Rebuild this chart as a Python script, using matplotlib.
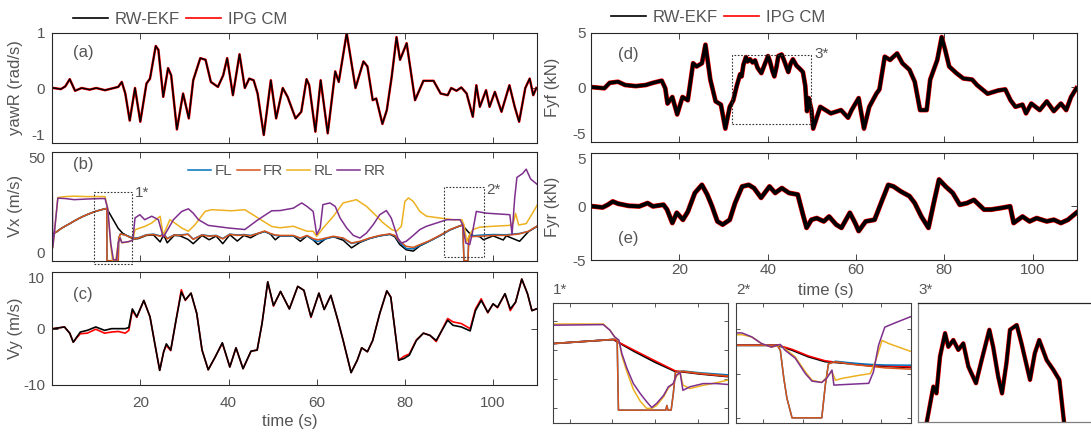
import matplotlib.pyplot as plt
from matplotlib.lines import Line2D

W, H = 1091, 433
plt.rcParams['font.family'] = ['Liberation Sans', 'DejaVu Sans']
plt.rcParams['axes.unicode_minus'] = False
plt.rcParams['lines.solid_joinstyle'] = 'round'

TXT = '#555555'
C_FL, C_FR, C_RL, C_RR = '#0072BD', '#D95319', '#EDB120', '#7E2F8E'

# (a) yaw rate, rad/s
yaw_t = [0.3, 2.0, 3.0, 4.0, 5.2, 6.7, 8.5, 10.0, 12.0, 14.0,
         15.0, 15.8, 16.6, 17.6, 18.8, 20.0, 21.4, 22.2, 23.5, 24.1,
         25.2, 26.3, 27.0, 28.3, 29.7, 31.0, 32.0, 33.6, 34.8, 36.0,
         37.6, 38.8, 39.7, 41.0, 42.5, 43.7, 44.7, 45.7, 46.6, 48.0,
         49.6, 50.8, 52.3, 53.4, 55.2, 56.5, 57.7, 58.3, 59.7, 60.9,
         62.5, 64.2, 65.0, 66.8, 68.8, 70.6, 71.5, 72.7, 73.5, 74.9,
         75.9, 77.0, 78.1, 78.9, 80.4, 82.3, 84.2, 86.5, 88.1, 89.7,
         90.5, 91.7, 92.8, 94.0, 95.4, 96.2, 97.0, 98.4, 99.2, 100.4,
         101.9, 103.7, 104.9, 105.9, 107.3, 108.3, 109.1, 109.8]
yaw_r = [0.0, -0.02, 0.03, 0.16, -0.05, 0.0, -0.03, 0.0, -0.04, 0.0,
         0.02, 0.11, -0.1, -0.59, 0.0, -0.61, 0.08, 0.17, 0.76, 0.69,
         -0.16, 0.36, 0.23, -0.75, -0.1, -0.55, 0.14, 0.54, 0.51, 0.11,
         0.02, 0.23, 0.54, -0.13, 0.61, 0.0, 0.17, 0.14, -0.1, -0.85,
         0.14, -0.55, 0.0, -0.16, -0.55, -0.43, 0.16, 0.05, -0.79, 0.14,
         -0.82, 0.3, 0.11, 0.99, 0.0, 0.48, 0.39, -0.22, -0.19, -0.65,
         -0.4, 0.2, 0.92, 0.51, 0.81, -0.22, 0.13, 0.13, -0.1, -0.13,
         0.0, -0.05, 0.01, -0.1, -0.52, 0.05, -0.34, -0.04, -0.34, -0.07,
         -0.43, 0.05, -0.34, -0.61, 0.0, 0.17, -0.13, 0.0]

# (b) wheel speeds, m/s
vxf_t = [0.3, 1, 2, 3, 4, 5, 6, 7, 8, 9,
         10, 11, 12, 12.4, 12.45, 15.0, 15.1, 15.5, 16.5, 17.3,
         18.5, 19.5, 21.4, 23, 24.5, 25.3, 26.1, 27.7, 29, 30.8,
         32, 34, 35.6, 37.2, 38.7, 40.3, 42, 43.5, 45, 46.6,
         48.2, 49.5, 50.6, 51.7, 54.7, 56.3, 57.8, 59.2, 60.3, 62.1,
         63.8, 66, 67.9, 69.8, 72, 74.3, 76.6, 77.7, 78.8, 80.3,
         81.9, 83.4, 85.6, 87.9, 90.2, 92.5, 93.1, 93.4, 94.3, 94.5,
         97, 100, 103, 106, 108, 110]
vx_fr = [12.5, 13.2, 14.7, 15.9, 17.0, 18.2, 19.3, 20.3, 21.2, 22.0,
         22.7, 23.3, 23.8, 24.0, 0.0, 0.0, 10.5, 12.3, 11.8, 11.1,
         10.2, 10.3, 11.8, 12.0, 11.2, 12.1, 10.0, 11.8, 11.6, 12.1,
         9.8, 11.8, 11.2, 11.5, 10.0, 12.1, 11.6, 11.8, 11.4, 12.5,
         13.6, 12.5, 11.8, 11.6, 11.6, 10.4, 11.6, 10.1, 9.6, 10.4,
         11.2, 10.4, 8.1, 8.9, 10.4, 11.6, 12.3, 11.6, 8.9, 6.6,
         6.1, 7.4, 9.2, 11.6, 14.3, 16.0, 16.5, 0.0, 0.0, 11.0,
         11.2, 11.6, 11.6, 12.3, 13.5, 15.9]
vx_fl = [12.5, 13.2, 14.7, 15.9, 17.0, 18.2, 19.3, 20.3, 21.2, 22.0,
         22.7, 23.3, 23.8, 24.0, 0.0, 0.0, 10.5, 12.3, 11.8, 11.3,
         10.4, 10.5, 11.9, 12.2, 11.4, 12.3, 10.2, 11.9, 11.8, 12.2,
         9.9, 11.9, 11.4, 11.6, 10.2, 12.2, 11.8, 12.0, 11.6, 12.5,
         13.4, 12.3, 11.6, 11.4, 11.4, 10.2, 11.4, 9.6, 8.8, 10.0,
         11.0, 10.2, 7.9, 8.7, 10.2, 11.4, 12.1, 11.4, 8.5, 5.6,
         5.4, 7.0, 9.0, 11.4, 14.1, 16.0, 16.5, 0.0, 0.0, 11.3,
         11.7, 12.0, 11.9, 12.5, 13.4, 15.8]

vx_ref_t = [0.3, 1, 2, 3, 4, 5, 6, 7, 8, 9,
            10, 11, 12, 12.4, 13, 14, 15, 16, 17.3, 18.5,
            19.5, 21.4, 23, 24.5, 25.3, 26.1, 27.7, 29, 30.8, 32,
            34, 35.6, 37.2, 38.7, 40.3, 42, 43.5, 45, 46.6, 48.2,
            49.5, 50.6, 51.7, 54.7, 56.3, 57.8, 59.2, 60.3, 62.1, 63.8,
            66, 67.9, 69.8, 72, 74.3, 76.6, 77.7, 78.8, 80.3, 81.9,
            83.4, 85.6, 87.9, 90.2, 92.5, 93.1, 93.6, 94.2, 94.7, 95.5,
            97, 97.8, 100, 102.3, 103, 106, 108, 110]
vx_ref = [12.5, 13.2, 14.7, 15.9, 17.0, 18.2, 19.3, 20.3, 21.2, 22.0,
          22.7, 23.3, 23.8, 24.0, 21.8, 18.3, 14.8, 12.6, 11.1, 10.0,
          10.1, 11.6, 11.8, 8.6, 11.9, 8.2, 11.6, 11.4, 9.8, 7.8,
          11.6, 9.6, 11.3, 7.8, 11.9, 9.0, 11.6, 10.5, 12.3, 13.4,
          12.2, 9.6, 11.4, 11.4, 8.9, 11.4, 9.5, 7.4, 10.2, 11.0,
          9.4, 5.9, 8.4, 10.2, 11.4, 12.1, 11.0, 7.5, 5.0, 4.4,
          6.8, 9.0, 11.4, 14.1, 16.0, 16.2, 15.0, 13.6, 12.5, 11.5,
          11.0, 9.6, 11.4, 9.5, 11.4, 8.9, 13.3, 15.8]

vx_rr_t = [0.05, 0.15, 0.5, 1.3, 3, 5, 8, 11, 12, 12.6,
           13.3, 13.9, 14.6, 15.0, 15.4, 15.8, 16.5, 17.5, 18.3, 18.8,
           19.9, 21, 22.6, 24.1, 25.2, 26, 27.5, 29.4, 30.9, 32,
           33.2, 35.4, 40, 43.7, 46.7, 49.8, 51.7, 54.7, 56.6, 57.8,
           59.2, 60, 60.8, 61.4, 63, 64.2, 65.3, 66.8, 68.3, 69.8,
           71.3, 72.8, 74.3, 75.8, 76.9, 78.4, 79.2, 80.3, 81.9, 83.4,
           84.9, 87.2, 89.5, 92.5, 93.1, 93.8, 94.7, 95.3, 96.2, 98.5,
           101.5, 103.8, 104.3, 104.9, 105.4, 106.7, 107.5, 108.5, 110]
vx_rr = [30.3, 6.0, 12.6, 28.7, 28.5, 28.0, 28.3, 28.5, 28.5, 24.0,
         8.0, 0.4, 0.4, 8.3, 10.5, 8.3, 8.5, 8.8, 9.5, 19.6,
         21.1, 18.8, 20.4, 18.8, 10.8, 13.5, 18.8, 22.6, 23.8, 21.8,
         18.8, 16.2, 15.0, 14.3, 18.8, 22.9, 23.0, 24.1, 26.5, 24.9,
         22.6, 12.0, 15.1, 25.7, 26.5, 24.9, 19.6, 15.0, 11.6, 10.4,
         12.7, 16.5, 21.1, 23.0, 19.6, 10.4, 8.1, 8.9, 11.6, 14.3,
         15.8, 17.3, 18.8, 18.8, 16.5, 8.1, 7.4, 12.7, 22.6, 21.8,
         21.4, 21.1, 12.0, 28.8, 38.2, 40.0, 42.0, 37.5, 35.0]

vx_rl_t = [0.15, 0.5, 1.3, 3, 5, 8, 12, 12.6, 13.3, 13.7,
           14.4, 15.0, 15.4, 15.8, 17.0, 18.3, 18.8, 21, 22.6, 24.5,
           25.2, 26.7, 27.8, 29.4, 30.9, 32.4, 34.7, 36.2, 40.7, 43.7,
           46.7, 49.8, 51.7, 54.7, 57.8, 59.2, 60, 61.5, 63.8, 66,
           69, 71.3, 73.6, 75.1, 77, 78.1, 79.2, 80, 80.8, 81.9,
           83.4, 84.9, 87.9, 91, 92.9, 93.4, 94, 94.7, 95.4, 97,
           100, 103.8, 104.6, 105.1, 105.8, 107.5, 109, 110]
vx_rl = [6.0, 12.6, 29.0, 29.4, 29.6, 29.4, 29.4, 24.0, 7.0, 0.0,
         0.0, 8.0, 11.0, 8.2, 8.5, 9.5, 14.2, 15.7, 17.3, 20.4,
         11.6, 18.8, 17.3, 15.0, 13.5, 16.5, 22.6, 23.4, 22.9, 23.4,
         19.6, 15.7, 15.1, 15.8, 13.5, 13.5, 11.2, 15.1, 20.4, 26.5,
         28.0, 24.9, 20.4, 17.3, 14.3, 13.5, 15.8, 27.2, 28.8, 27.2,
         22.6, 20.4, 19.6, 18.8, 18.8, 16.5, 8.9, 12.0, 14.3, 15.4,
         15.8, 16.2, 17.3, 21.7, 16.4, 17.0, 22.0, 25.5]

# (c) lateral speed, m/s
vy_t = [0.3, 2.8, 4.0, 4.8, 5.5, 6.4, 8.0, 9.9, 11.9, 13.5,
        15.0, 16.6, 17.4, 18.2, 19.2, 20.8, 22.2, 23.3, 24.4, 25.3,
        25.9, 26.9, 28.1, 29.3, 30.2, 31.5, 32.8, 34.0, 35.4, 37.0,
        38.6, 40.3, 41.7, 43.3, 45.1, 46.5, 47.6, 48.9, 50.2, 51.8,
        53.8, 55.7, 57.1, 58.7, 60.5, 61.7, 63.2, 64.8, 66.0, 67.8,
        69.2, 70.2, 71.5, 72.7, 74.3, 75.9, 76.8, 78.6, 79.8, 81.0,
        82.6, 84.2, 85.7, 87.1, 89.7, 90.9, 92.8, 94.8, 96.0, 97.3,
        98.8, 100.0, 101.0, 102.7, 103.9, 105.1, 106.5, 107.8, 108.8, 109.8]
vy_ekf = [0.0, 0.3, -0.8, -2.4, -1.6, -0.6, -0.3, 0.3, -0.3, 0.0,
          0.0, 0.0, 0.2, 3.5, 2.1, 5.0, 2.1, -2.7, -7.4, -4.1,
          -2.7, -3.8, 1.5, 6.5, 5.1, 6.3, 2.7, -3.8, -7.3, -5.0,
          -2.5, -6.8, -3.4, -7.1, -4.0, -3.8, 0.9, 8.3, 4.1, 6.6,
          3.5, 7.5, 6.8, 2.1, 6.3, 3.4, 5.9, 1.5, -2.1, -7.8,
          -5.6, -3.4, -4.1, -2.1, 2.7, 6.7, 5.6, -5.6, -5.3, -4.7,
          -2.1, -0.8, -1.2, -2.1, 1.5, 0.6, 0.3, -0.4, 3.2, 5.0,
          2.9, 4.4, 3.8, 6.2, 3.5, 4.7, 8.8, 6.2, 3.2, 3.5]
vy_ipg = [0.0, 0.3, -0.8, -2.4, -1.7, -0.9, -0.8, -0.1, -0.8, -0.6,
          -0.5, -0.8, -0.3, 3.2, 2.0, 5.0, 2.1, -2.7, -7.4, -4.1,
          -3.0, -3.9, 1.5, 6.9, 5.0, 6.3, 2.7, -3.8, -7.3, -5.0,
          -2.6, -6.8, -3.4, -7.1, -4.0, -3.8, 0.9, 8.3, 4.0, 6.6,
          3.5, 7.5, 6.8, 2.0, 6.3, 3.4, 5.9, 1.5, -2.1, -7.8,
          -5.6, -3.4, -4.1, -2.1, 2.7, 6.7, 5.6, -5.6, -4.9, -4.5,
          -2.0, -0.8, -1.2, -2.3, 1.8, 1.2, 0.9, 0.0, 3.5, 5.3,
          2.8, 4.4, 3.7, 6.2, 3.2, 4.7, 8.8, 6.2, 3.2, 3.5]

# (d) front lateral force, kN
fyf_t = [0.4, 3.0, 4.2, 6.1, 7.7, 10.1, 12.4, 14.0, 16.0, 16.8,
         17.3, 18.4, 19.5, 20.7, 21.9, 23.1, 23.9, 25.1, 25.9, 27.0,
         28.2, 29.4, 30.4, 31.4, 32.2, 33.0, 33.75, 34.1, 34.5, 35.07,
         35.44, 36.0, 36.57, 37.13, 37.7, 38.56, 39.2, 40.07, 40.5, 41.07,
         41.5, 42.0, 42.4, 43.16, 43.7, 44.66, 45.2, 45.7, 46.54, 47.3,
         47.97, 48.5, 48.9, 49.3, 49.9, 50.3, 51.9, 54.3, 56.6, 58.2,
         59.0, 60.6, 61.8, 63.0, 64.6, 65.3, 66.5, 67.7, 69.3, 70.5,
         72.1, 73.3, 74.5, 76.0, 76.8, 78.4, 79.4, 80.2, 81.1, 82.7,
         84.3, 86.3, 87.4, 89.8, 92.2, 93.8, 95.0, 96.1, 97.7, 98.5,
         99.7, 101.6, 103.2, 104.8, 106.4, 107.6, 108.7, 109.9]
fyf = [0.0, -0.1, 0.4, 0.5, 0.2, 0.1, 0.2, 0.4, 0.6, -0.1,
       -1.5, -0.9, -2.5, -0.9, -1.2, 2.2, 1.9, 2.2, 3.9, 0.7,
       -1.3, -1.6, -3.8, -1.8, -1.2, 0.14, 1.19, 0.99, 2.07, 2.76,
       2.36, 2.56, 2.27, 2.46, 1.78, 1.29, 1.97, 2.86, 2.36, 1.48,
       0.99, 1.88, 2.86, 3.0, 2.46, 1.39, 2.17, 2.56, 1.97, 1.68,
       1.39, 0.14, -2.2, -1.0, -2.1, -3.8, -1.8, -2.4, -2.1, -2.8,
       -2.1, -1.0, -3.8, -1.8, -0.6, -0.2, 2.8, 2.5, 3.1, 2.2,
       1.6, 0.5, -2.1, -2.1, 0.7, 2.5, 4.6, 3.4, 1.9, 1.3,
       0.8, 0.7, 0.2, -0.6, -0.3, -0.2, -1.2, -1.8, -1.6, -2.4,
       -1.5, -2.1, -1.3, -2.2, -1.5, -2.1, -0.9, -0.1]

# (e) rear lateral force, kN
fyr_t = [0.4, 2.6, 3.8, 4.9, 6.1, 8.5, 10.9, 12.8, 14.0, 16.4,
         17.2, 18.4, 19.4, 20.8, 21.9, 23.5, 25.1, 26.3, 27.4, 28.6,
         29.8, 31.4, 32.6, 34.2, 35.7, 36.9, 38.5, 40.4, 41.7, 43.2,
         44.8, 46.8, 48.0, 48.8, 49.9, 51.1, 52.7, 53.9, 55.5, 56.7,
         58.6, 59.8, 60.6, 62.2, 64.2, 65.8, 67.3, 68.5, 70.1, 72.1,
         73.3, 74.8, 76.4, 77.6, 78.8, 80.3, 81.9, 83.5, 85.1, 86.7,
         89.0, 90.6, 92.9, 94.9, 95.7, 97.7, 99.3, 100.9, 103.2, 104.8,
         106.4, 108.0, 109.9]
fyr = [0.0, -0.1, 0.15, 0.45, 0.25, 0.05, 0.0, 0.3, 0.0, 0.15,
       -0.3, -1.55, -0.6, -1.25, -0.5, 1.25, 2.0, 1.1, 0.0, -1.4,
       -1.7, -1.25, 0.3, 1.85, 2.0, 1.7, 0.8, 1.85, 1.25, 1.7,
       1.25, 1.1, -0.8, -2.0, -1.25, -1.1, -1.4, -0.95, -1.7, -2.0,
       -0.6, -1.55, -2.3, -1.4, -1.25, 0.45, 2.0, 1.85, 1.4, 0.95,
       0.3, -0.95, -2.0, 0.3, 2.5, 1.85, 1.25, 0.15, 0.3, 0.6,
       -0.3, -0.3, -0.15, 0.0, -1.55, -0.95, -1.4, -1.1, -1.4, -1.25,
       -1.55, -1.25, -0.6]

# zoom 1* (braking around 12-15 s)
z1_rr_t = [9.2, 11.57, 11.88, 12.1, 12.3, 12.44, 12.68, 12.98, 13.3, 13.6,
           13.84, 14.07, 14.4, 14.62, 14.85, 15.0, 15.17, 15.3, 15.63, 16.25,
           16.88, 17.4]
z1_rr = [28.5, 28.7, 26.8, 24.5, 23.4, 18.8, 13.7, 8.5, 5.1, 2.3,
         0.3, 1.7, 4.5, 7.4, 8.5, 11.4, 12.3, 6.2, 7.4, 8.5,
         8.5, 8.2]
z1_rl = [28.9, 28.9, 26.8, 24.5, 23.2, 18.0, 12.5, 6.5, 2.5, 0.0,
         0.0, 1.0, 4.0, 7.0, 8.5, 11.0, 12.3, 8.0, 6.8, 7.9,
         8.8, 9.7]
z1_f_t = [9.2, 12.0, 12.22, 12.28, 14.0, 14.5, 14.55, 14.6, 14.75, 14.85,
          14.95, 15.32, 16.1, 17.4]
z1_fr = [22.2, 23.6, 23.7, -0.6, -0.6, -0.6, 1.0, -0.6, -0.6, 5.0,
         12.3, 12.7, 12.0, 11.1]
z1_fl = [22.2, 23.6, 23.7, -0.6, -0.6, -0.6, 1.0, -0.6, -0.6, 5.0,
         12.3, 12.8, 12.2, 11.5]
z1_ref_t = [9.2, 12.04, 13.0, 14.0, 14.96, 15.32, 16.1, 17.4]
z1_ref = [22.2, 23.6, 19.6, 15.8, 12.6, 12.5, 11.8, 10.9]
z1_ipg = [22.2, 23.6, 20.0, 16.3, 12.8, 12.6, 11.9, 11.0]

# zoom 2* (braking around 93-95 s)
z2_rr_t = [92.29, 92.45, 92.7, 92.95, 93.2, 93.43, 93.55, 93.81, 94.07, 94.24,
           94.49, 94.62, 94.75, 94.8, 95.0, 95.69, 95.81, 95.94, 96.1, 96.37,
           96.77]
z2_rr = [19.2, 19.2, 18.3, 16.8, 16.0, 16.6, 15.3, 13.5, 10.0, 8.3,
         8.0, 9.0, 10.8, 7.4, 7.5, 7.8, 10.4, 16.4, 20.5, 21.5,
         22.9]
z2_rl_t = [92.29, 92.45, 92.7, 92.95, 93.2, 93.43, 93.55, 93.81, 94.07, 94.24,
           94.49, 94.62, 94.75, 94.84, 95.0, 95.43, 95.73, 95.86, 96.03, 96.2,
           96.77]
z2_rl = [18.8, 18.8, 18.3, 16.8, 16.0, 16.4, 15.6, 13.8, 10.4, 8.5,
         8.0, 9.2, 10.5, 8.5, 8.9, 9.6, 10.0, 12.7, 17.5, 16.8,
         15.0]
z2_f_t = [92.29, 93.35, 93.43, 93.52, 93.6, 93.73, 94.49, 94.58, 94.66, 94.84,
          95.26, 95.69, 96.1, 96.77]
z2_fr = [16.4, 16.4, 15.3, 8.9, 4.4, 0.0, 0.0, 7.4, 12.2, 12.7,
         12.1, 11.7, 11.3, 11.0]
z2_fl = [16.4, 16.4, 15.3, 8.9, 4.4, 0.0, 0.0, 7.4, 12.2, 12.8,
         12.4, 12.1, 11.95, 11.9]
z2_ref_t = [92.29, 93.35, 93.73, 94.15, 94.58, 94.75, 95.26, 95.69, 96.77]
z2_ref = [16.4, 16.4, 15.3, 13.8, 12.7, 12.6, 12.2, 11.8, 11.4]
z2_ipg = [16.5, 16.5, 15.5, 14.0, 12.9, 12.7, 12.3, 11.9, 11.5]


fig = plt.figure(figsize=(W / 100, H / 100), dpi=100)


def add_ax(l, r, t, b):
    # pixel box -> figure fraction
    return fig.add_axes([l / W, 1 - b / H, (r - l) / W, (b - t) / H])


def style(ax, spine='#262626', tick_len=4):
    ax.tick_params(direction='in', top=True, right=True, length=tick_len, width=0.6,
                   colors=spine, labelcolor=TXT, labelsize=11)
    for s in ax.spines.values():
        s.set_color(spine)
        s.set_linewidth(0.8)


ax_a = add_ax(52.1, 537.2, 32.7, 143.3)
ax_b = add_ax(52.1, 537.2, 151.7, 260.7)
ax_c = add_ax(52.1, 537.2, 272.3, 385)
ax_d = add_ax(591.1, 1076.8, 32.7, 141.7)
ax_e = add_ax(591.1, 1076.8, 152.7, 260)
in1 = add_ax(552.7, 727.7, 303.3, 422.7)
in2 = add_ax(735.7, 911, 303.3, 422.7)
in3 = add_ax(918.3, 1100, 303.3, 422.3)

for ax in [ax_a, ax_b, ax_c, ax_d, ax_e]:
    style(ax)
    ax.set_xlim(0, 110)
    ax.set_xticks([20, 40, 60, 80, 100])
for ax in [ax_a, ax_b, ax_d]:
    ax.tick_params(labelbottom=False)
ax_c.tick_params(axis='x', pad=8)
ax_e.tick_params(axis='x', pad=2)
for ax in [ax_a, ax_b, ax_c]:
    ax.tick_params(axis='y', pad=5)
for ax in [ax_d, ax_e]:
    ax.tick_params(axis='y', pad=3.5)

# (a)
ax_a.plot(yaw_t, yaw_r, color='red', lw=1.8)
ax_a.plot(yaw_t, yaw_r, color='black', lw=1.1)
ax_a.set_ylim(-1, 1)
ax_a.set_yticks([-1, 0, 1])
ax_a.set_ylabel('yawR (rad/s)', fontsize=12, color=TXT)
ax_a.text(0.043, 0.82, '(a)', transform=ax_a.transAxes, fontsize=12, color=TXT, va='center')

# (b)
ax_b.plot(vx_ref_t, vx_ref, color='black', lw=1.1)
h_fl, = ax_b.plot(vxf_t, vx_fl, color=C_FL, lw=1.1)
h_fr, = ax_b.plot(vxf_t, vx_fr, color=C_FR, lw=1.1)
h_rl, = ax_b.plot(vx_rl_t, vx_rl, color=C_RL, lw=1.1)
h_rr, = ax_b.plot(vx_rr_t, vx_rr, color=C_RR, lw=1.1)
ax_b.set_ylim(0, 50)
ax_b.set_yticks([0, 50])
ax_b.set_ylabel('Vx (m/s)', fontsize=12, color=TXT)
ax_b.text(0.043, 0.88, '(b)', transform=ax_b.transAxes, fontsize=12, color=TXT, va='center')
ax_b.legend([h_fl, h_fr, h_rl, h_rr], ['FL', 'FR', 'RL', 'RR'], ncol=4, loc='center',
            bbox_to_anchor=(0.484, 0.823), frameon=False, fontsize=11, labelcolor=TXT,
            handlelength=1.5, handletextpad=0.2, columnspacing=0.3, borderaxespad=0)

# zoom boxes
box1 = (9.5, 18.05, -1.5, 31.4)
box2 = (88.9, 97.9, 1.7, 33.8)
box3 = (32.0, 49.9, -3.4, 3.0)
for ax, (x0, x1, y0, y1) in [(ax_b, box1), (ax_b, box2), (ax_d, box3)]:
    ax.plot([x0, x1, x1, x0, x0], [y0, y0, y1, y1, y0], color='#333333', lw=0.8,
            ls=(0, (1.5, 1.5)), clip_on=False, zorder=5)
ax_b.text(20.3, 31.0, '1*', fontsize=11, color=TXT, ha='center', va='center')
ax_b.text(100.0, 32.6, '2*', fontsize=11, color=TXT, ha='center', va='center')
ax_d.text(52.3, 3.05, '3*', fontsize=11, color=TXT, ha='center', va='center')

# (c)
ax_c.plot(vy_t, vy_ipg, color='red', lw=1.2)
ax_c.plot(vy_t, vy_ekf, color='black', lw=1.2)
ax_c.set_ylim(-10, 10)
ax_c.set_yticks([-10, 0, 10])
ax_c.set_ylabel('Vy (m/s)', fontsize=12, color=TXT)
ax_c.text(0.043, 0.8, '(c)', transform=ax_c.transAxes, fontsize=12, color=TXT, va='center')

# (d), (e)  - thick lines stand in for the noisy force estimates
ax_d.plot(fyf_t, fyf, color='red', lw=3.4)
ax_d.plot(fyf_t, fyf, color='black', lw=2.6)
ax_d.set_ylabel('Fyf (kN)', fontsize=12, color=TXT)
ax_d.text(0.055, 0.8, '(d)', transform=ax_d.transAxes, fontsize=12, color=TXT, va='center')
ax_e.plot(fyr_t, fyr, color='red', lw=3.6)
ax_e.plot(fyr_t, fyr, color='black', lw=2.8)
ax_e.set_ylabel('Fyr (kN)', fontsize=12, color=TXT)
ax_e.text(0.055, 0.2, '(e)', transform=ax_e.transAxes, fontsize=12, color=TXT, va='center')
for ax in [ax_d, ax_e]:
    ax.set_ylim(-5, 5)
    ax.set_yticks([-5, 0, 5])

for ax in [ax_a, ax_b, ax_c]:
    ax.yaxis.set_label_coords(-0.061, 0.5)
for ax in [ax_d, ax_e]:
    ax.yaxis.set_label_coords(-0.064, 0.5)

# stacked panels: nudge the touching end labels apart like the original
for ax in [ax_a, ax_b, ax_d]:
    ax.yaxis.get_major_ticks()[0].label1.set_verticalalignment('bottom')
for ax in [ax_b, ax_c, ax_e]:
    ax.yaxis.get_major_ticks()[-1].label1.set_verticalalignment('top')

fig.text(290 / W, 1 - 421.7 / H, 'time (s)', fontsize=12, color=TXT, ha='center', va='center')
fig.text(826 / W, 1 - 290 / H, 'time (s)', fontsize=12, color=TXT, ha='center', va='center')

# insets
in1.plot(z1_ref_t, z1_ref, color='black', lw=1.3)
in1.plot(z1_ref_t, z1_ipg, color='red', lw=1.1)
in1.plot(z1_f_t, z1_fl, color=C_FL, lw=1.1)
in1.plot(z1_f_t, z1_fr, color=C_FR, lw=1.1)
in1.plot(z1_rr_t, z1_rl, color=C_RL, lw=1.1)
in1.plot(z1_rr_t, z1_rr, color=C_RR, lw=1.1)
in1.set_xlim(9.2, 17.4)
in1.set_ylim(-4.9, 36.0)
in1.set_xticks([10, 12, 14, 16])
in1.set_yticks([0, 10, 20, 30])

in2.plot(z2_ref_t, z2_ref, color='black', lw=1.3)
in2.plot(z2_ref_t, z2_ipg, color='red', lw=1.1)
in2.plot(z2_f_t, z2_fl, color=C_FL, lw=1.1)
in2.plot(z2_f_t, z2_fr, color=C_FR, lw=1.1)
in2.plot(z2_rl_t, z2_rl, color=C_RL, lw=1.1)
in2.plot(z2_rr_t, z2_rr, color=C_RR, lw=1.1)
in2.set_xlim(92.29, 96.77)
in2.set_ylim(-1.1, 25.9)
in2.set_xticks([93, 94, 95, 96])
in2.set_yticks([0, 10, 20])

for ax in [in1, in2]:
    style(ax, spine='#404040', tick_len=3)
    ax.tick_params(labelbottom=False, labelleft=False)

in3.plot(fyf_t, fyf, color='red', lw=3.2)
in3.plot(fyf_t, fyf, color='black', lw=2.4)
in3.set_xlim(32.05, 52.56)
in3.set_ylim(0.14, 3.64)
in3.set_xticks([])
in3.set_yticks([])
for s in in3.spines.values():
    s.set_color('#808080')
    s.set_linewidth(0.9)
in3.spines['top'].set_color('#262626')

for lab, x in [('1*', 552.7), ('2*', 736.6), ('3*', 918.5)]:
    fig.text(x / W, 1 - 290 / H, lab, fontsize=11, color=TXT, ha='left', va='center')

# shared legends
leg_h = [Line2D([], [], color='black', lw=1.2), Line2D([], [], color='red', lw=1.2)]
for cx, cy in [(180, 19), (718, 17)]:
    fig.legend(leg_h, ['RW-EKF', 'IPG CM'], ncol=2, loc='center', bbox_to_anchor=(cx / W, 1 - cy / H),
               frameon=False, fontsize=12, labelcolor=TXT, handlelength=2.1,
               handletextpad=0.4, columnspacing=0.4, borderaxespad=0)

fig.savefig('out.png', dpi=100)
